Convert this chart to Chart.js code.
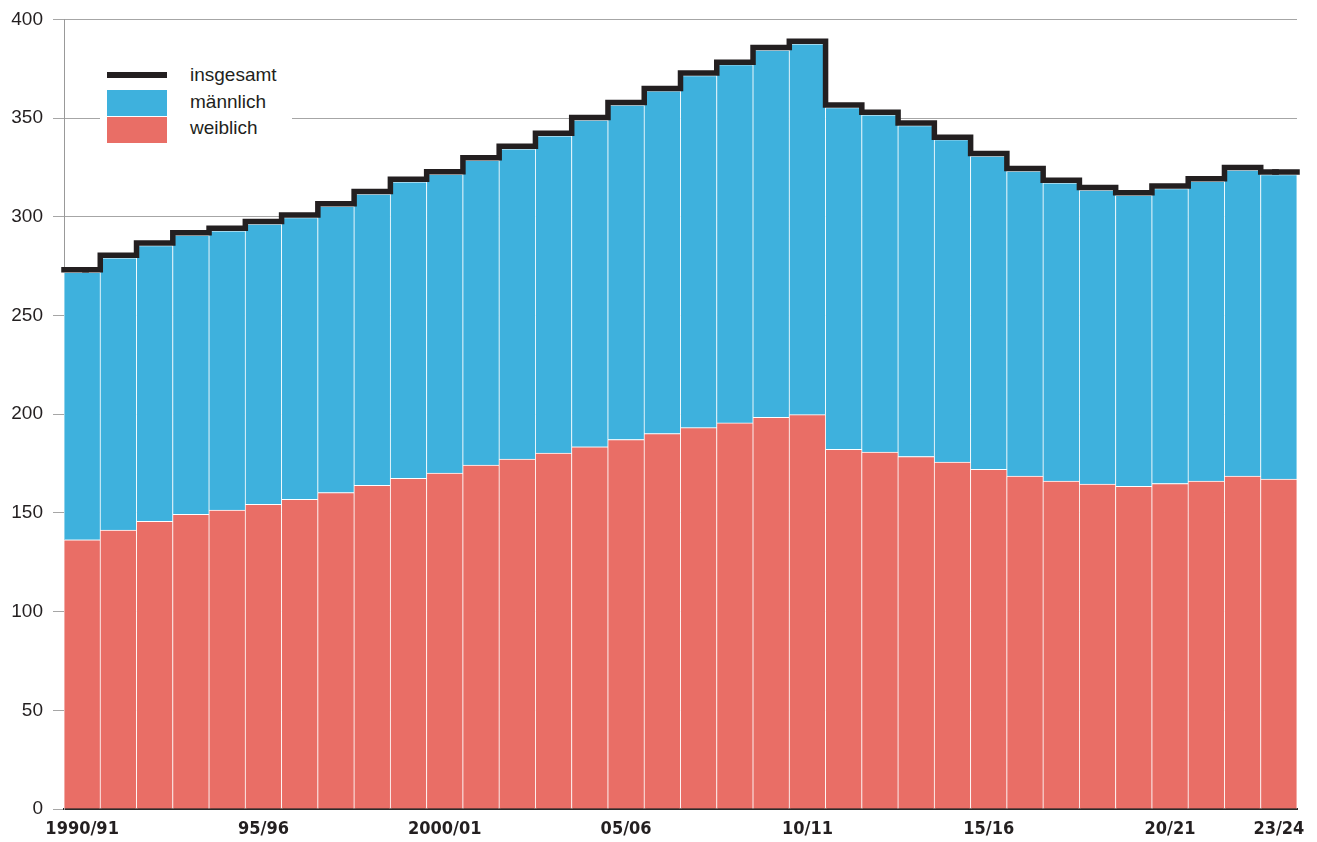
<!DOCTYPE html>
<html>
<head>
<meta charset="utf-8">
<script src="https://cdn.jsdelivr.net/npm/chart.js@4"></script>
<style>
  body { margin: 0; background: #fff; }
  #wrap { position: relative; width: 1317px; height: 842px; }
  #legend {
    position: absolute; left: 100px; top: 62px; width: 192px; height: 86px;
    background: #fff; font: 19px 'Liberation Sans', Arial, sans-serif; color: #231f20;
  }
  #legend .sw { position: absolute; left: 7px; width: 60px; }
  #legend .lb { position: absolute; left: 90px; line-height: 20px; }
</style>
</head>
<body>
<div id="wrap">
  <canvas id="myChart" width="1317" height="842"></canvas>
  <div id="legend">
    <div class="sw" style="top:10px;height:6px;background:#231f20"></div>
    <div class="lb" style="top:3px">insgesamt</div>
    <div class="sw" style="top:28px;height:26px;background:#3eb1dd"></div>
    <div class="lb" style="top:30px">männlich</div>
    <div class="sw" style="top:55px;height:26px;background:#e96e66"></div>
    <div class="lb" style="top:56px">weiblich</div>
  </div>
</div>
<script>
const jahre = [
  '1990/91', '91/92', '92/93', '93/94', '94/95', '95/96', '96/97', '97/98', '98/99', '99/2000',
  '2000/01', '01/02', '02/03', '03/04', '04/05', '05/06', '06/07', '07/08', '08/09', '09/10',
  '10/11', '11/12', '12/13', '13/14', '14/15', '15/16', '16/17', '17/18', '18/19', '19/20',
  '20/21', '21/22', '22/23', '23/24'
];
const xTickLabels = ['1990/91', '95/96', '2000/01', '05/06', '10/11', '15/16', '20/21', '23/24'];

// Werte in Tausend
const weiblich = [
  136.4, 141.3, 145.8, 149.3, 151.4, 154.4, 156.9, 160.3, 164.0, 167.5,
  170.2, 174.2, 177.3, 180.3, 183.5, 187.2, 190.2, 193.2, 195.6, 198.5,
  199.8, 182.2, 180.8, 178.6, 175.8, 172.1, 168.7, 166.2, 164.6, 163.5,
  164.9, 166.2, 168.7, 167.2
];
const maennlich = [
  135.5, 138.0, 139.7, 141.3, 141.5, 141.9, 142.8, 145.1, 147.6, 150.2,
  151.4, 154.4, 157.2, 160.8, 165.5, 169.5, 173.6, 178.4, 181.5, 186.0,
  187.9, 173.2, 170.9, 167.7, 163.3, 158.7, 154.5, 151.0, 149.0, 147.4,
  149.4, 151.8, 155.0, 154.2
];
const insgesamt = [
  273.2, 280.6, 286.8, 291.9, 294.2, 297.6, 301.0, 306.7, 312.9, 319.0,
  322.9, 329.9, 335.8, 342.4, 350.3, 358.0, 365.1, 372.9, 378.4, 385.8,
  389.0, 356.7, 353.0, 347.6, 340.4, 332.1, 324.5, 318.5, 314.9, 312.2,
  315.6, 319.3, 325.0, 322.7
];

const lineColor = '#231f20';
const lineWidth = 5.5;
const barBorder = { top: 1, left: 0.75, right: 0.75, bottom: 0 };

// die Stufenlinie endet an den Balkenmitten, hier bis an die Balkenränder verlängern
const stufenEnden = {
  id: 'stufenEnden',
  afterDatasetDraw(chart, args) {
    if (args.index !== 0) return;
    const { ctx, scales: { x, y } } = chart;
    const last = insgesamt.length - 1;
    const half = (x.getPixelForValue(1) - x.getPixelForValue(0)) / 2;
    ctx.save();
    ctx.strokeStyle = lineColor;
    ctx.lineWidth = lineWidth;
    ctx.lineCap = 'square';
    ctx.beginPath();
    ctx.moveTo(x.getPixelForValue(0) - half, y.getPixelForValue(insgesamt[0]));
    ctx.lineTo(x.getPixelForValue(0) + 4, y.getPixelForValue(insgesamt[0]));
    ctx.moveTo(x.getPixelForValue(last) - 4, y.getPixelForValue(insgesamt[last]));
    ctx.lineTo(x.getPixelForValue(last) + half, y.getPixelForValue(insgesamt[last]));
    ctx.stroke();
    ctx.restore();
  }
};

const ctx = document.getElementById('myChart').getContext('2d');

new Chart(ctx, {
  type: 'bar',
  data: {
    labels: jahre,
    datasets: [
      {
        type: 'line',
        label: 'insgesamt',
        data: insgesamt,
        borderColor: lineColor,
        borderWidth: lineWidth,
        stepped: 'middle',
        pointRadius: 0,
        fill: false,
        borderJoinStyle: 'miter',
        borderCapStyle: 'butt',
        clip: false,
        order: 0
      },
      {
        label: 'weiblich',
        data: weiblich,
        backgroundColor: '#e96e66',
        borderColor: '#ffffff',
        borderWidth: barBorder,
        barPercentage: 1,
        categoryPercentage: 1,
        order: 1
      },
      {
        label: 'männlich',
        data: maennlich,
        backgroundColor: '#3eb1dd',
        borderColor: '#ffffff',
        borderWidth: barBorder,
        barPercentage: 1,
        categoryPercentage: 1,
        order: 1
      }
    ]
  },
  plugins: [stufenEnden],
  options: {
    responsive: false,
    animation: false,
    layout: { padding: { top: 5, right: 20, left: 0, bottom: 0 } },
    plugins: {
      legend: { display: false },
      tooltip: { enabled: false }
    },
    scales: {
      x: {
        stacked: true,
        grid: { display: false, drawTicks: false },
        border: { color: '#2b2b2b', width: 2 },
        ticks: {
          autoSkip: false,
          maxRotation: 0,
          padding: 10,
          color: '#231f20',
          font: { family: "'Liberation Sans Narrow', 'DejaVu Sans Condensed', sans-serif", size: 18, weight: 'bold' },
          callback: function (v) {
            const l = this.getLabelForValue(v);
            return xTickLabels.includes(l) ? l : '';
          }
        },
        afterFit: s => { s.height = 33; }
      },
      y: {
        stacked: true,
        min: 0,
        max: 400,
        ticks: {
          stepSize: 50,
          padding: 10,
          color: '#231f20',
          font: { family: "'Liberation Sans', Arial, sans-serif", size: 19, lineHeight: 1 }
        },
        grid: { color: '#a6a6a6', lineWidth: 1, tickLength: 11 },
        border: { color: '#999999', width: 1 },
        afterFit: s => { s.width = 64; }
      }
    }
  }
});
</script>
</body>
</html>
